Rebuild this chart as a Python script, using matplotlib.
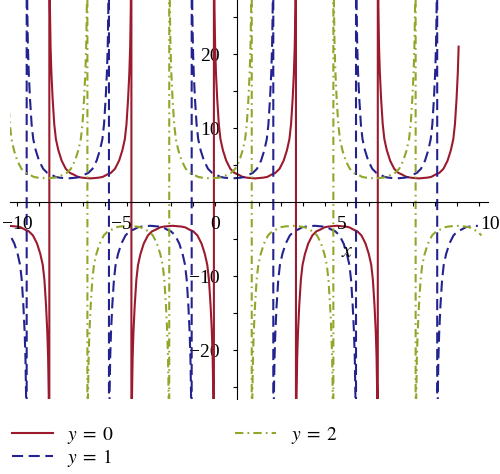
import numpy as np
import matplotlib
matplotlib.use('Agg')
import matplotlib.pyplot as plt
from matplotlib.ticker import FixedLocator, MultipleLocator, NullFormatter

plt.rcParams['font.family'] = ['Liberation Serif', 'DejaVu Serif']
plt.rcParams['mathtext.fontset'] = 'stix'
plt.rcParams['lines.scale_dashes'] = False

# shape of one branch: distance from branch centre
# (fraction of half width) and |value|
prof_u = [0.0, 0.2, 0.3, 0.4, 0.5, 0.6, 0.7, 0.78, 0.84, 0.88, 0.92, 0.95, 0.97, 0.985, 1.0]
prof_v = [3.2, 3.3, 3.4, 3.7, 3.95, 4.5, 5.6, 7.0, 8.5, 10.5, 14.0, 17.5, 21.0, 26.0, 40.0]

# vertical asymptotes of each curve (first and last lie outside the view)
poles_y0 = [-12.26, -8.53, -4.80, -1.05, 2.68, 6.40, 10.13]
poles_y1 = [-13.30, -9.56, -5.82, -2.06, 1.65, 5.41, 9.10, 12.80]
poles_y2 = [-10.55, -6.80, -3.08, 0.67, 4.38, 8.12, 11.86]
first_sign = {'y0': -1, 'y1': -1, 'y2': 1}
x_end = {'y0': 10.09, 'y1': 11.2, 'y2': 11.2}

xtick_vals = [-10, -5, 5, 10]
ytick_vals = [-20, -10, 10, 20]
labels = [r'$y\;=\;0$', r'$y\;=\;1$', r'$y\;=\;2$']


def curve(poles, sign, xmax):
    u = np.array(prof_u)
    v = np.array(prof_v)
    s = np.concatenate([-u[::-1], u[1:]])
    w = np.concatenate([v[::-1], v[1:]])
    xs, ys = [], []
    for a, b in zip(poles[:-1], poles[1:]):
        c, h = (a + b) / 2, (b - a) / 2
        xs.append(c + h * s)
        ys.append(sign * w)
        sign = -sign
    x = np.concatenate(xs)
    y = np.concatenate(ys)
    keep = x <= xmax
    return x[keep], y[keep]


fig = plt.figure(figsize=(5, 4.74), dpi=100)
ax = fig.add_axes([0.0208, 0.1582, 0.9548, 0.8418])
ax.patch.set_alpha(0)

x0, y0 = curve(poles_y0, first_sign['y0'], x_end['y0'])
x1, y1 = curve(poles_y1, first_sign['y1'], x_end['y1'])
x2, y2 = curve(poles_y2, first_sign['y2'], x_end['y2'])

l0, = ax.plot(x0, y0, color='#9c1a2e', lw=1.5, label=labels[0])
l1, = ax.plot(x1, y1, color='#23238f', lw=1.5, ls=(0, (8, 4)), label=labels[1])
l2, = ax.plot(x2, y2, color='#8fa82a', lw=1.5, ls=(0, (6, 3, 1.2, 3)), label=labels[2])

ax.set_xlim(-10.3, 11.4)
ax.set_ylim(-26.6, 27.3)

ax.spines['left'].set_position(('data', 0))
ax.spines['bottom'].set_position(('data', 0))
ax.spines['top'].set_visible(False)
ax.spines['right'].set_visible(False)

ax.xaxis.set_major_locator(FixedLocator(xtick_vals))
ax.xaxis.set_minor_locator(MultipleLocator(1))
ax.xaxis.set_major_formatter(NullFormatter())
ax.yaxis.set_major_locator(FixedLocator(ytick_vals))
ax.yaxis.set_minor_locator(MultipleLocator(5))
ax.set_yticklabels([str(v).replace('-', '\u2212') for v in ytick_vals])
ax.tick_params(which='both', direction='out', length=3.2, width=0.8)
ax.tick_params(axis='y', pad=9, labelsize=14)

# x tick labels (the picture has them a bit off their ticks)
shift = {-10: 0, -5: -4, 5: -3.6, 10: 24}
for v in xtick_vals:
    ax.annotate(str(v).replace('-', '\u2212'), (v, 0), xytext=(shift[v], -10),
                textcoords='offset points', ha='center', va='top', fontsize=14)
ax.annotate('0', (0, 0), xytext=(-16, -10), textcoords='offset points',
            ha='center', va='top', fontsize=14)
ax.text(0.705, 0.366, '$x$', transform=ax.transAxes, fontsize=16,
        ha='center', va='center')

fig.legend(handles=[l0, l1, l2], loc='upper left', bbox_to_anchor=(12 / 500, 1 - 425 / 474),
           ncol=2, frameon=False, fontsize=14, handlelength=2.1, handletextpad=0.75,
           columnspacing=6.2, labelspacing=0.05, borderpad=0, borderaxespad=0)

plt.savefig('out.png', dpi=100)
